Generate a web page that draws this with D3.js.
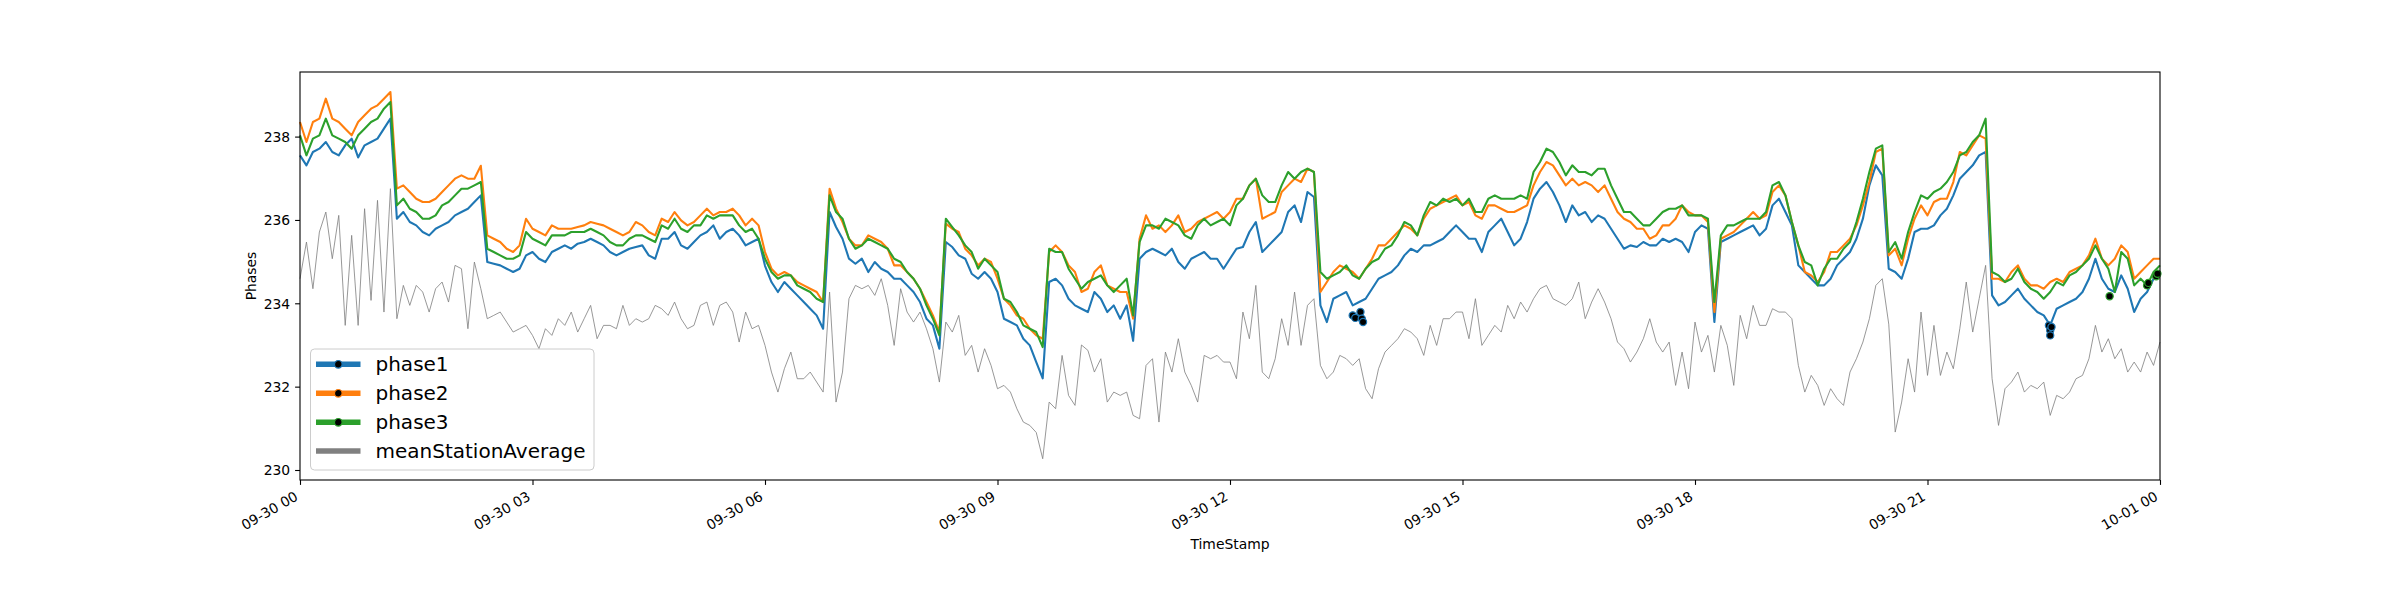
<!DOCTYPE html>
<html>
<head>
<meta charset="utf-8">
<script src="https://cdn.jsdelivr.net/npm/d3@7"></script>
<style>
  body { margin: 0; background: #ffffff; }
  text { font-family: "DejaVu Sans", sans-serif; }
</style>
</head>
<body>
<div id="chart"></div>
<script>
// one reading every 5 minutes, 09-30 00:00 -> 10-01 00:00 (one row = one hour)
var startTime = new Date(2019, 8, 30, 0, 0);
var stepMinutes = 5;

var phase1 = [
  237.55, 237.31, 237.63, 237.71, 237.87, 237.63, 237.55, 237.79, 237.95, 237.5, 237.79, 237.87,
  237.95, 238.19, 238.43, 236.03, 236.19, 235.95, 235.87, 235.71, 235.63, 235.79, 235.87, 235.95,
  236.11, 236.19, 236.27, 236.43, 236.59, 234.99, 234.95, 234.91, 234.83, 234.75, 234.83, 235.15,
  235.23, 235.07, 234.99, 235.23, 235.31, 235.39, 235.31, 235.43, 235.47, 235.55, 235.47, 235.39,
  235.23, 235.15, 235.23, 235.31, 235.35, 235.39, 235.15, 235.07, 235.55, 235.55, 235.71, 235.39,
  235.31, 235.47, 235.63, 235.71, 235.87, 235.55, 235.71, 235.79, 235.63, 235.39, 235.47, 235.55,
  234.9, 234.51, 234.27, 234.51, 234.35, 234.19, 234.03, 233.87, 233.71, 233.39, 236.19, 235.83,
  235.55, 235.07, 234.95, 235.07, 234.75, 234.99, 234.83, 234.75, 234.59, 234.59, 234.43, 234.27,
  234.03, 233.63, 233.47, 232.91, 235.47, 235.35, 235.15, 235.07, 234.71, 234.59, 234.75, 234.59,
  234.27, 233.63, 233.55, 233.47, 233.15, 232.99, 232.59, 232.2, 234.51, 234.59, 234.43, 234.11,
  233.95, 233.87, 233.79, 234.27, 234.11, 233.79, 233.95, 233.63, 233.95, 233.1, 235.07, 235.23,
  235.31, 235.23, 235.15, 235.31, 234.99, 234.83, 235.07, 235.15, 235.23, 235.07, 235.07, 234.83,
  235.07, 235.31, 235.35, 235.71, 235.95, 235.23, 235.39, 235.55, 235.71, 236.19, 236.35, 235.95,
  236.67, 236.55, 233.95, 233.55, 234.11, 234.19, 234.27, 233.95, 234.03, 234.11, 234.35, 234.59,
  234.67, 234.75, 234.91, 235.15, 235.31, 235.23, 235.39, 235.39, 235.47, 235.55, 235.71, 235.87,
  235.71, 235.55, 235.55, 235.23, 235.71, 235.87, 236.03, 235.71, 235.39, 235.55, 235.95, 236.51,
  236.75, 236.91, 236.67, 236.35, 235.95, 236.35, 236.11, 236.19, 235.95, 236.11, 236.03, 235.79,
  235.55, 235.31, 235.39, 235.35, 235.47, 235.39, 235.39, 235.55, 235.47, 235.55, 235.47, 235.23,
  235.71, 235.87, 235.79, 233.55, 235.47, 235.55, 235.63, 235.71, 235.79, 235.87, 235.63, 235.79,
  236.35, 236.51, 236.19, 235.87, 234.91, 234.75, 234.59, 234.43, 234.43, 234.59, 234.91, 235.07,
  235.23, 235.55, 236.03, 236.83, 237.31, 237.07, 234.83, 234.75, 234.59, 235.07, 235.71, 235.79,
  235.79, 235.87, 236.11, 236.27, 236.59, 236.99, 237.15, 237.31, 237.55, 237.63, 234.19, 233.95,
  234.03, 234.19, 234.35, 234.11, 233.95, 233.79, 233.71, 233.47, 233.87, 233.95, 234.03, 234.11,
  234.27, 234.59, 235.07, 234.59, 234.35, 234.27, 234.67, 234.35, 233.79, 234.11, 234.27, 234.59,
  234.75
];

var phase2 = [
  238.35, 237.87, 238.35, 238.43, 238.91, 238.43, 238.35, 238.19, 238.03, 238.35, 238.51, 238.67,
  238.75, 238.91, 239.07, 236.75, 236.83, 236.67, 236.51, 236.43, 236.43, 236.51, 236.67, 236.83,
  236.99, 237.07, 236.99, 236.99, 237.3, 235.63, 235.55, 235.47, 235.31, 235.23, 235.39, 236.03,
  235.79, 235.71, 235.63, 235.87, 235.79, 235.79, 235.79, 235.83, 235.87, 235.95, 235.91, 235.87,
  235.79, 235.71, 235.63, 235.71, 235.95, 235.87, 235.71, 235.63, 236.03, 235.95, 236.19, 235.99,
  235.87, 235.95, 236.11, 236.27, 236.11, 236.19, 236.19, 236.27, 236.11, 235.87, 236.03, 235.87,
  235.23, 234.83, 234.67, 234.75, 234.67, 234.51, 234.43, 234.35, 234.27, 234.03, 236.75, 236.27,
  235.95, 235.55, 235.39, 235.39, 235.63, 235.55, 235.47, 235.31, 234.91, 234.91, 234.75, 234.59,
  234.35, 234.03, 233.71, 233.31, 235.91, 235.79, 235.71, 235.31, 235.15, 234.91, 235.07, 234.99,
  234.59, 234.11, 233.95, 233.71, 233.63, 233.39, 233.23, 233.15, 235.23, 235.39, 235.23, 234.91,
  234.75, 234.27, 234.35, 234.75, 234.91, 234.43, 234.35, 234.27, 234.27, 233.63, 235.55, 236.11,
  235.79, 235.87, 235.71, 235.87, 236.11, 235.71, 235.79, 235.95, 236.03, 236.11, 236.19, 236.03,
  236.19, 236.51, 236.51, 236.83, 236.99, 236.03, 236.11, 236.19, 236.67, 236.83, 236.99, 236.91,
  237.23, 237.15, 234.27, 234.51, 234.75, 234.91, 234.83, 234.75, 234.59, 234.83, 235.07, 235.39,
  235.39, 235.55, 235.71, 235.87, 235.79, 235.63, 236.03, 236.27, 236.35, 236.43, 236.51, 236.59,
  236.35, 236.43, 236.11, 236.03, 236.35, 236.35, 236.27, 236.19, 236.19, 236.27, 236.35, 236.83,
  237.15, 237.39, 237.31, 237.07, 236.83, 236.99, 236.83, 236.91, 236.83, 236.67, 236.83, 236.51,
  236.19, 236.03, 235.95, 235.79, 235.79, 235.55, 235.63, 235.87, 235.87, 236.03, 236.35, 236.19,
  236.11, 236.11, 235.95, 233.79, 235.55, 235.63, 235.71, 235.87, 236.03, 236.19, 236.03, 236.11,
  236.67, 236.83, 236.59, 235.95, 235.39, 234.75, 234.67, 234.51, 234.75, 235.23, 235.23, 235.39,
  235.55, 235.87, 236.35, 236.91, 237.63, 237.71, 235.15, 235.31, 234.91, 235.55, 236.03, 236.35,
  236.11, 236.43, 236.51, 236.51, 236.91, 237.63, 237.55, 237.79, 238.03, 237.95, 234.59, 234.59,
  234.51, 234.75, 234.91, 234.59, 234.43, 234.43, 234.35, 234.51, 234.59, 234.51, 234.75, 234.83,
  234.91, 235.15, 235.55, 235.07, 234.91, 235.07, 235.39, 235.23, 234.59, 234.75, 234.91, 235.07,
  235.07
];

var phase3 = [
  238.03, 237.55, 237.95, 238.03, 238.43, 238.03, 237.95, 237.87, 237.71, 238.03, 238.19, 238.35,
  238.43, 238.67, 238.83, 236.35, 236.51, 236.27, 236.19, 236.03, 236.03, 236.11, 236.35, 236.43,
  236.59, 236.75, 236.75, 236.83, 236.91, 235.31, 235.23, 235.15, 235.07, 235.07, 235.15, 235.71,
  235.55, 235.47, 235.39, 235.63, 235.63, 235.63, 235.71, 235.71, 235.71, 235.79, 235.71, 235.63,
  235.47, 235.39, 235.39, 235.55, 235.63, 235.63, 235.55, 235.47, 235.87, 235.79, 236.03, 235.79,
  235.71, 235.87, 235.87, 236.11, 236.03, 236.11, 236.11, 236.11, 235.87, 235.71, 235.79, 235.55,
  235.07, 234.75, 234.59, 234.67, 234.67, 234.43, 234.35, 234.27, 234.11, 234.03, 236.59, 236.19,
  236.03, 235.55, 235.31, 235.39, 235.55, 235.47, 235.39, 235.31, 235.07, 234.99, 234.75, 234.59,
  234.35, 233.95, 233.63, 233.23, 236.03, 235.83, 235.63, 235.39, 235.23, 234.83, 235.07, 234.91,
  234.75, 234.11, 234.03, 233.79, 233.47, 233.39, 233.31, 232.95, 235.31, 235.23, 235.23, 234.83,
  234.59, 234.35, 234.51, 234.59, 234.67, 234.43, 234.27, 234.43, 234.59, 233.71, 235.47, 235.87,
  235.87, 235.79, 236.03, 235.95, 235.87, 235.63, 235.55, 235.87, 236.03, 235.87, 235.95, 236.03,
  235.87, 236.35, 236.51, 236.83, 236.99, 236.59, 236.43, 236.43, 236.83, 237.15, 236.99, 237.15,
  237.23, 237.15, 234.75, 234.59, 234.67, 234.75, 234.91, 234.67, 234.59, 234.83, 234.99, 235.07,
  235.31, 235.39, 235.63, 235.95, 235.87, 235.63, 236.11, 236.43, 236.35, 236.51, 236.43, 236.51,
  236.35, 236.51, 236.19, 236.19, 236.51, 236.59, 236.51, 236.51, 236.51, 236.59, 236.51, 237.15,
  237.39, 237.71, 237.63, 237.39, 237.07, 237.31, 237.15, 237.15, 237.07, 237.23, 237.23, 236.83,
  236.51, 236.19, 236.19, 236.03, 235.87, 235.87, 236.03, 236.19, 236.27, 236.27, 236.35, 236.11,
  236.11, 236.11, 236.03, 234.03, 235.63, 235.87, 235.87, 235.95, 236.03, 236.03, 236.03, 236.19,
  236.83, 236.91, 236.59, 235.95, 235.39, 234.99, 234.91, 234.43, 234.83, 235.07, 235.07, 235.31,
  235.47, 235.95, 236.51, 237.15, 237.71, 237.79, 235.23, 235.47, 235.07, 235.71, 236.19, 236.59,
  236.51, 236.67, 236.75, 236.91, 237.15, 237.55, 237.63, 237.87, 238.03, 238.43, 234.75, 234.67,
  234.51, 234.59, 234.83, 234.51, 234.35, 234.27, 234.11, 234.27, 234.51, 234.43, 234.67, 234.75,
  234.91, 235.07, 235.39, 235.07, 234.83, 234.27, 235.23, 235.07, 234.43, 234.59, 234.43, 234.75,
  234.91
];

var meanStationAverage = [
  234.59, 235.47, 234.35, 235.71, 236.19, 235.07, 236.11, 233.47, 235.63, 233.47, 236.27, 234.07,
  236.47, 233.79, 236.75, 233.63, 234.43, 233.95, 234.43, 234.27, 233.79, 234.35, 234.51, 234.03,
  234.91, 234.83, 233.39, 234.99, 234.35, 233.63, 233.71, 233.79, 233.55, 233.31, 233.39, 233.47,
  233.23, 232.91, 233.39, 233.23, 233.63, 233.47, 233.79, 233.31, 233.63, 233.95, 233.15, 233.47,
  233.47, 233.39, 233.95, 233.47, 233.63, 233.55, 233.63, 233.95, 233.87, 233.71, 234.03, 233.63,
  233.39, 233.47, 233.95, 234.03, 233.47, 233.95, 234.03, 233.79, 233.07, 233.79, 233.39, 233.47,
  232.99, 232.35, 231.87, 232.43, 232.83, 232.19, 232.19, 232.35, 232.11, 231.87, 234.27, 231.63,
  232.35, 234.11, 234.43, 234.35, 234.43, 234.19, 234.59, 233.95, 232.99, 234.35, 233.79, 233.55,
  233.79, 233.39, 232.91, 232.11, 233.55, 233.31, 233.71, 232.75, 232.99, 232.35, 232.91, 232.51,
  231.95, 232.03, 231.87, 231.47, 231.15, 231.07, 230.9, 230.27, 231.63, 231.47, 232.75, 231.79,
  231.55, 233.0, 232.87, 232.35, 232.67, 231.63, 231.87, 231.79, 231.87, 231.31, 231.23, 232.51,
  232.67, 231.15, 232.83, 232.35, 233.15, 232.35, 232.03, 231.63, 232.75, 232.67, 232.75, 232.59,
  232.59, 232.19, 233.79, 233.15, 234.43, 232.35, 232.19, 232.67, 233.63, 232.99, 234.27, 232.99,
  233.95, 234.11, 232.51, 232.19, 232.35, 232.75, 232.67, 232.51, 232.67, 231.95, 231.71, 232.43,
  232.83, 232.99, 233.15, 233.39, 233.31, 233.15, 232.75, 233.47, 232.99, 233.63, 233.63, 233.79,
  233.79, 233.15, 234.11, 232.99, 233.23, 233.47, 233.31, 233.95, 233.63, 234.03, 233.79, 234.11,
  234.35, 234.43, 234.11, 234.03, 233.95, 234.11, 234.51, 233.63, 234.03, 234.35, 234.03, 233.63,
  233.07, 232.91, 232.59, 232.83, 233.15, 233.63, 233.07, 232.83, 233.07, 232.03, 232.83, 231.95,
  233.55, 232.83, 233.23, 232.35, 233.47, 232.99, 232.03, 233.71, 233.15, 233.95, 233.47, 233.47,
  233.87, 233.79, 233.79, 233.63, 232.51, 231.87, 232.27, 232.03, 231.55, 231.95, 231.71, 231.55,
  232.35, 232.67, 233.07, 233.63, 234.43, 234.59, 233.5, 230.91, 231.63, 232.67, 231.87, 233.79,
  232.27, 233.47, 232.27, 232.83, 232.43, 233.39, 234.51, 233.31, 234.11, 234.91, 232.19, 231.07,
  231.95, 232.11, 232.35, 231.87, 232.03, 231.95, 232.11, 231.31, 231.79, 231.71, 231.87, 232.19,
  232.27, 232.67, 233.47, 232.83, 233.15, 232.67, 232.91, 232.35, 232.59, 232.35, 232.83, 232.51,
  233.07
];

// flagged readings drawn as black dots (minutes after start, value, phase index)
var flagMinutes = [815, 817, 821, 822, 823, 1354, 1355, 1355, 1356, 1401, 1430, 1431, 1437, 1438];
var flagValues  = [233.71, 233.65, 233.79, 233.63, 233.55, 233.47, 233.35, 233.23, 233.43, 234.17, 234.43, 234.49, 234.65, 234.71];
var flagPhase   = [0, 0, 0, 0, 0, 0, 0, 0, 0, 2, 2, 2, 2, 2];

var seriesNames = ["phase1", "phase2", "phase3", "meanStationAverage"];
var seriesColors = ["#1f77b4", "#ff7f0e", "#2ca02c", "#808080"];
var yTicks = [230, 232, 234, 236, 238];
var xTickHours = [0, 3, 6, 9, 12, 15, 18, 21, 24];

var svgWidth = 2400;
var svgHeight = 600;
var margin = { top: 72, right: 240, bottom: 120, left: 300 };
var width = svgWidth - margin.left - margin.right;
var height = svgHeight - margin.top - margin.bottom;

var svg = d3.select("#chart")
  .append("svg")
  .attr("width", svgWidth)
  .attr("height", svgHeight);

svg.append("rect")
  .attr("width", svgWidth)
  .attr("height", svgHeight)
  .attr("fill", "#ffffff");

var chartGroup = svg.append("g")
  .attr("transform", `translate(${margin.left}, ${margin.top})`);

var endTime = d3.timeHour.offset(startTime, 24);
var xScale = d3.scaleTime().domain([startTime, endTime]).range([0, width]);
var yScale = d3.scaleLinear().domain([229.76, 239.55]).range([height, 0]);

function timeAt(i) {
  return d3.timeMinute.offset(startTime, i * stepMinutes);
}

var line = d3.line()
  .x((d, i) => xScale(timeAt(i)))
  .y(d => yScale(d));

var allSeries = [phase1, phase2, phase3, meanStationAverage];

// mean first so the phases sit on top of it
chartGroup.append("path")
  .datum(meanStationAverage)
  .attr("d", line)
  .attr("fill", "none")
  .attr("stroke", seriesColors[3])
  .attr("stroke-width", 0.9)
  .attr("stroke-opacity", 0.9)
  .attr("stroke-linejoin", "round");

[0, 1, 2].forEach(function(k) {
  chartGroup.append("path")
    .datum(allSeries[k])
    .attr("d", line)
    .attr("fill", "none")
    .attr("stroke", seriesColors[k])
    .attr("stroke-width", 2.1)
    .attr("stroke-linejoin", "round");
});

chartGroup.selectAll("circle.flag")
  .data(flagMinutes)
  .enter()
  .append("circle")
  .attr("class", "flag")
  .attr("cx", d => xScale(d3.timeMinute.offset(startTime, d)))
  .attr("cy", (d, i) => yScale(flagValues[i]))
  .attr("r", 3.6)
  .attr("fill", "#000000")
  .attr("stroke", (d, i) => seriesColors[flagPhase[i]])
  .attr("stroke-width", 1.2);

// axes
var fontPx = 13.9;
var xAxis = d3.axisBottom(xScale)
  .tickValues(xTickHours.map(h => d3.timeHour.offset(startTime, h)))
  .tickFormat(d3.timeFormat("%m-%d %H"))
  .tickSize(4.9)
  .tickSizeOuter(0);

var xAxisGroup = chartGroup.append("g")
  .attr("transform", `translate(0, ${height})`)
  .call(xAxis);

xAxisGroup.select(".domain").remove();
xAxisGroup.selectAll(".tick line").attr("stroke", "#000").attr("stroke-width", 1.1);
xAxisGroup.selectAll(".tick text")
  .attr("x", 0)
  .attr("y", 0)
  .attr("dy", null)
  .attr("text-anchor", "end")
  .attr("transform", "translate(-1.5, 19.2) rotate(-30)")
  .attr("fill", "#000")
  .style("font-size", fontPx + "px")
  .style("font-family", "'DejaVu Sans', sans-serif");

var yAxis = d3.axisLeft(yScale)
  .tickValues(yTicks)
  .tickFormat(d3.format("d"))
  .tickSize(4.9)
  .tickPadding(4.9)
  .tickSizeOuter(0);

var yAxisGroup = chartGroup.append("g").call(yAxis);
yAxisGroup.select(".domain").remove();
yAxisGroup.selectAll(".tick line").attr("stroke", "#000").attr("stroke-width", 1.1);
yAxisGroup.selectAll(".tick text")
  .attr("fill", "#000")
  .attr("dy", "0.34em")
  .style("font-size", fontPx + "px")
  .style("font-family", "'DejaVu Sans', sans-serif");

// frame
chartGroup.append("rect")
  .attr("width", width)
  .attr("height", height)
  .attr("fill", "none")
  .attr("stroke", "#000")
  .attr("stroke-width", 1.1);

// axis labels
svg.append("text")
  .attr("x", margin.left + width / 2)
  .attr("y", 549)
  .attr("text-anchor", "middle")
  .style("font-size", fontPx + "px")
  .text("TimeStamp");

svg.append("text")
  .attr("transform", `translate(256, ${margin.top + height / 2}) rotate(-90)`)
  .attr("text-anchor", "middle")
  .style("font-size", fontPx + "px")
  .text("Phases");

// legend
var legend = chartGroup.append("g")
  .attr("transform", "translate(10.5, 277)");

legend.append("rect")
  .attr("width", 283.5)
  .attr("height", 121)
  .attr("rx", 4)
  .attr("fill", "#ffffff")
  .attr("fill-opacity", 0.8)
  .attr("stroke", "#cccccc")
  .attr("stroke-width", 1);

var rowY = [15.3, 44.3, 73.3, 102];
seriesNames.forEach(function(name, k) {
  var row = legend.append("g").attr("transform", `translate(0, ${rowY[k]})`);
  row.append("line")
    .attr("x1", 5.5)
    .attr("x2", 50)
    .attr("stroke", seriesColors[k])
    .attr("stroke-width", 5.5);
  if (k < 3) {
    row.append("circle")
      .attr("cx", 27.8)
      .attr("r", 3.8)
      .attr("fill", "#000")
      .attr("stroke", seriesColors[k])
      .attr("stroke-width", 1.2);
  }
  row.append("text")
    .attr("x", 65)
    .attr("y", 7)
    .style("font-size", "20px")
    .text(name);
});
</script>
</body>
</html>
